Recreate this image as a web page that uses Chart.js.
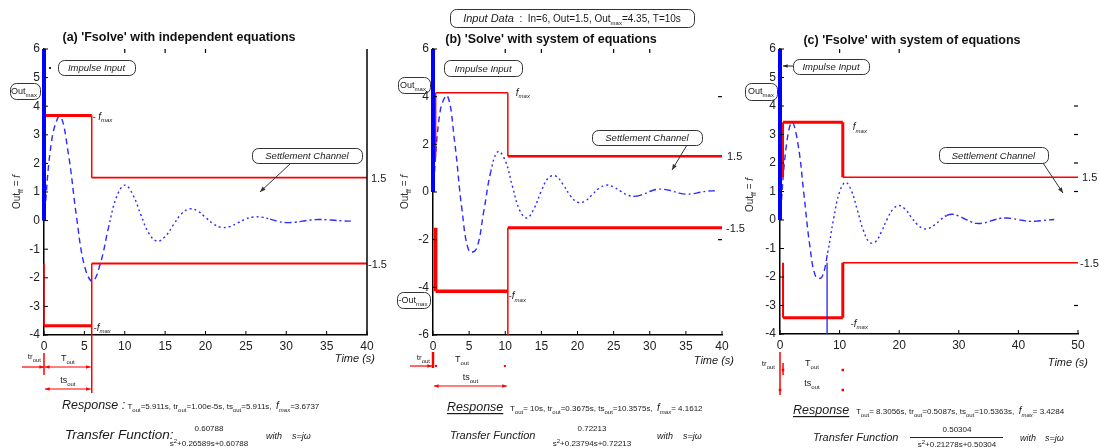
<!DOCTYPE html>
<html><head><meta charset="utf-8">
<script src="https://cdn.jsdelivr.net/npm/chart.js@4.4.1/dist/chart.umd.min.js"></script>
<style>
html,body{margin:0;padding:0;background:#fff;}
#wrap{position:relative;width:1099px;height:448px;overflow:hidden;background:#fff}
canvas{position:absolute;left:0;top:0;width:1099px;height:448px}
</style></head><body><div id="wrap">
<canvas id="ca" width="1099" height="448"></canvas>
<canvas id="cb" width="1099" height="448"></canvas>
<canvas id="cc" width="1099" height="448"></canvas>
</div>
<script>
// ---------- data ----------
const timeA = [0,1,2,3,4,5,6,7,8,9,10,11,12,13,14,15,16,17,18,19,20,21,22,23,24,25,26,27,28,29,30,31,32,33,34,35,36,37,38];
const outA  = [0,2.89,3.64,2.37,0.19,-1.57,-2.12,-1.48,-0.23,0.84,1.24,0.91,0.20,-0.45,-0.72,-0.56,-0.16,0.23,0.41,0.34,0.11,-0.12,-0.24,-0.21,-0.08,0.06,0.13,0.12,0.05,-0.03,-0.07,-0.06,-0.02,0.02,0.04,0.03,0.01,-0.01,-0.02];
const timeB = [0,1,2,3,4,5,6,7,8,9,10,11,12,13,14,15,16,17,18,19,20,21,22,23,24,25,26,27,28,29,30,31,32,33,34,35,36,37,38,39];
const outB  = [0,3.41,4.03,2.09,-0.71,-2.49,-2.39,-0.86,0.86,1.70,1.32,0.23,-0.77,-1.09,-0.69,0.05,0.60,0.67,0.32,-0.15,-0.43,-0.39,-0.12,0.16,0.29,0.21,0.03,-0.14,-0.18,-0.11,0.02,0.11,0.11,0.05,-0.04,-0.09,-0.07,-0.01,0.04,0.05];
const timeC = [0,1,2,3,4,5,6,7,8,9,10,11,12,13,14,15,16,17,18,19,20,21,22,23,24,25,26,27,28,29,30,31,32,33,34,35,36,37,38,39,40,41,42,43,44,45,46];
const outC  = [0,2.50,3.43,2.69,0.93,-0.90,-1.99,-2.01,-1.15,0.05,0.99,1.32,1.02,0.33,-0.37,-0.78,-0.77,-0.42,0.04,0.39,0.51,0.38,0.11,-0.15,-0.30,-0.29,-0.16,0.02,0.16,0.20,0.14,0.04,-0.06,-0.12,-0.11,-0.06,0.01,0.06,0.07,0.05,0.01,-0.02,-0.05,-0.04,-0.02,0.00,0.02];

const impulseIn = 6;          // impulse input height
const bandLevel = 1.5;        // settlement channel half width
const fmaxA = 3.6737, fmaxB = 4.1612, fmaxC = 3.4284;
const tsA = 5.911,  tsB = 10.3575, tsC = 10.5363;
const trA = 0,      trB = 0.3675,  trC = 0.5087;
const markerC = 7.9;          // blue marker line in panel (c)

const xTicksA = [0,5,10,15,20,25,30,35,40];
const xTicksB = [0,5,10,15,20,25,30,35,40];
const xTicksC = [0,10,20,30,40,50];
const yTicksA = [6,5,4,3,2,1,0,-1,-2,-3,-4];
const yTicksB = [6,4,2,0,-2,-4,-6];
const yTicksC = [6,5,4,3,2,1,0,-1,-2,-3,-4];
const topTicksA = [10,15,20];
const topTicksB = [10,15,25,30];
const topTicksC = [10,20];
const rightTicksB = [4,-2];
const rightTicksC = [4,3,2,1,-3];

// ---------- drawing helpers ----------
const FAM = '"Liberation Sans", Arial, Helvetica, sans-serif';
const F = (sz, st) => (st ? st + ' ' : '') + sz + 'px ' + FAM;
const sub = (t, sz, st) => [t, F(sz || 6, st), 2.5];

function rich(ctx, parts, x, y, align, color) {
  ctx.save();
  ctx.textBaseline = 'alphabetic'; ctx.textAlign = 'left';
  ctx.fillStyle = color || '#1a1a1a';
  let w = 0;
  const ws = parts.map(p => { ctx.font = p[1]; const m = ctx.measureText(p[0]).width; w += m; return m; });
  let cx = align === 'center' ? x - w / 2 : (align === 'right' ? x - w : x);
  parts.forEach((p, i) => {
    ctx.font = p[1];
    ctx.fillText(p[0], cx, y + (p[2] || 0));
    if (p[3]) ctx.fillRect(cx, y + 2, ws[i], 1.2);
    cx += ws[i];
  });
  ctx.restore();
  return w;
}
function rbox(ctx, x, y, w, h) {
  const r = Math.min(6, h / 2);
  ctx.save(); ctx.strokeStyle = '#333'; ctx.lineWidth = 1;
  x += 0.5; y += 0.5;
  ctx.beginPath();
  ctx.moveTo(x + r, y); ctx.lineTo(x + w - r, y); ctx.arcTo(x + w, y, x + w, y + r, r);
  ctx.lineTo(x + w, y + h - r); ctx.arcTo(x + w, y + h, x + w - r, y + h, r);
  ctx.lineTo(x + r, y + h); ctx.arcTo(x, y + h, x, y + h - r, r);
  ctx.lineTo(x, y + r); ctx.arcTo(x, y, x + r, y, r);
  ctx.closePath(); ctx.stroke(); ctx.restore();
}
function line(ctx, pts, color, lw) {
  ctx.save(); ctx.strokeStyle = color; ctx.lineWidth = lw; ctx.beginPath();
  pts.forEach((p, i) => i ? ctx.lineTo(p[0], p[1]) : ctx.moveTo(p[0], p[1]));
  ctx.stroke(); ctx.restore();
}
function head(ctx, xf, yf, xt, yt, color, s) {
  const a = Math.atan2(yt - yf, xt - xf);
  ctx.save(); ctx.fillStyle = color; ctx.beginPath();
  ctx.moveTo(xt, yt);
  ctx.lineTo(xt - s * Math.cos(a - 0.38), yt - s * Math.sin(a - 0.38));
  ctx.lineTo(xt - s * Math.cos(a + 0.38), yt - s * Math.sin(a + 0.38));
  ctx.closePath(); ctx.fill(); ctx.restore();
}
function arrow(ctx, x1, y1, x2, y2, color, lw, s, both) {
  line(ctx, [[x1, y1], [x2, y2]], color, lw);
  head(ctx, x1, y1, x2, y2, color, s);
  if (both) head(ctx, x2, y2, x1, y1, color, s);
}
function dot(ctx, x, y, color, s) { ctx.save(); ctx.fillStyle = color; ctx.fillRect(x - s / 2, y - s / 2, s, s); ctx.restore(); }
function vtext(ctx, parts, x, y) {
  ctx.save(); ctx.translate(x, y); ctx.rotate(-Math.PI / 2); rich(ctx, parts, 0, 0, 'center', '#333'); ctx.restore();
}
const fm = (pre) => [[pre, F(9)], ['f', F(10, 'italic')], sub('max', 6, 'italic')];
const outMax = (pre) => [[pre + 'Out', F(9)], sub('max', 6)];
const RED = '#ff0000';

function inwardTicks(ctx, c, P) {
  const xs = c.scales.x, ys = c.scales.y, ca = c.chartArea;
  P.yTicks.forEach(v => { const py = ys.getPixelForValue(v); line(ctx, [[ca.left, py], [ca.left + 4, py]], '#000', 1); });
  P.xTicks.forEach(v => { const px = xs.getPixelForValue(v); line(ctx, [[px, ca.bottom], [px, ca.bottom - 4]], '#000', 1); });
  (P.topTicks || []).forEach(v => { const px = xs.getPixelForValue(v); line(ctx, [[px, ca.top], [px, ca.top + 4]], '#000', 1.2); });
  (P.rightTicks || []).forEach(v => { const py = ys.getPixelForValue(v); line(ctx, [[ca.right - 4, py], [ca.right, py]], '#000', 1.2); });
}

// ---------- panel annotations ----------
function annA(ctx, c, P) {
  const xs = c.scales.x, ys = c.scales.y, ca = c.chartArea;
  const x0 = xs.getPixelForValue(0), xt = xs.getPixelForValue(P.ts);
  rich(ctx, [["(a) 'Fsolve' with independent equations", F(12.5, 'bold')]], 179, 41, 'center', '#111');
  line(ctx, [[ca.right, ca.top], [ca.right, ca.bottom]], '#000', 1.5);
  rbox(ctx, 58, 60, 77, 15); rich(ctx, [['Impulse Input', F(9.5, 'italic')]], 96.5, 71, 'center');
  dot(ctx, 50, 68, '#222', 2);
  rbox(ctx, 10, 83, 30, 16); rich(ctx, outMax(''), 24, 94, 'center');
  rich(ctx, fm('- '), xt + 1, ys.getPixelForValue(P.fmax) + 4);
  rbox(ctx, 252, 148, 110, 15); rich(ctx, [['Settlement Channel', F(9.5, 'italic')]], 307, 159, 'center');
  arrow(ctx, 290, 164, 260, 192, '#333', 1, 6);
  rich(ctx, fm('-'), xt + 2, ys.getPixelForValue(-P.fmax) + 5);
  rich(ctx, [['1.5', F(11)]], ca.right + 4, ys.getPixelForValue(P.band) + 4);
  rich(ctx, [['-1.5', F(11)]], ca.right + 1, ys.getPixelForValue(-P.band) + 4);
  rich(ctx, [['Time (s)', F(11, 'italic')]], ca.right + 8, 362, 'right');
  vtext(ctx, [['Out', F(10)], sub('ff', 7), [' = ', F(10)], ['f', F(10, 'italic')]], 20, 192);
  // time marks under axis
  line(ctx, [[x0, 353], [x0, 375]], RED, 1.5);
  line(ctx, [[xt, ca.bottom], [xt, 393]], RED, 1.5);
  arrow(ctx, 22, 367, x0, 367, RED, 1.2, 5);
  arrow(ctx, x0 + 1, 367, xt - 1, 367, RED, 1.2, 5, true);
  arrow(ctx, x0 + 1, 389, xt - 1, 389, RED, 1.2, 5, true);
  rich(ctx, [['tr', F(8)], sub('out', 6)], x0 - 3, 359, 'right');
  rich(ctx, [['T', F(9)], sub('out', 6)], (x0 + xt) / 2, 361, 'center');
  rich(ctx, [['ts', F(9)], sub('out', 6)], (x0 + xt) / 2, 383, 'center');
  // response & transfer function
  rich(ctx, [['Response :', F(12.5, 'italic')], [' T', F(8)], sub('out'), ['=5.911s, tr', F(8)], sub('out'), ['=1.00e-5s, ts', F(8)], sub('out'),
             ['=5.911s,  ', F(8)], ['f', F(10, 'italic')], sub('max', 6, 'italic'), ['=3.6737', F(8)]], 62, 409, 'left');
  rich(ctx, [['Transfer Function:', F(13.5, 'italic')]], 65, 439, 'left');
  rich(ctx, [['0.60788', F(8)]], 209, 431, 'center');
  rich(ctx, [['s', F(8)], ['2', F(6), -3], ['+0.26589s+0.60788', F(8)]], 209, 446, 'center');
  rich(ctx, [['with', F(9, 'italic')]], 266, 439, 'left');
  rich(ctx, [['s=jω', F(9, 'italic')]], 292, 439, 'left');
}

function annB(ctx, c, P) {
  const xs = c.scales.x, ys = c.scales.y, ca = c.chartArea;
  const x0 = xs.getPixelForValue(0), xt = xs.getPixelForValue(P.ts);
  rbox(ctx, 450, 9, 244, 18);
  rich(ctx, [['Input Data', F(11, 'italic')], ['  :  In=6, Out=1.5, Out', F(10)], sub('max', 6), ['=4.35, T=10s', F(10)]], 572, 22, 'center');
  rich(ctx, [["(b) 'Solve' with system of equations", F(12.5, 'bold')]], 551, 43, 'center', '#111');
  rbox(ctx, 444, 60, 78, 16); rich(ctx, [['Impulse Input', F(9.5, 'italic')]], 483, 72, 'center');
  rbox(ctx, 398, 77, 32, 16); rich(ctx, outMax(''), 413, 88, 'center');
  rich(ctx, fm(''), xt + 8, ys.getPixelForValue(P.fmax) + 3);
  rbox(ctx, 592, 130, 110, 15); rich(ctx, [['Settlement Channel', F(9.5, 'italic')]], 647, 141, 'center');
  arrow(ctx, 687, 145, 672, 170, '#333', 1, 6);
  rbox(ctx, 397, 292, 33, 16); rich(ctx, outMax('-'), 413, 303, 'center');
  rich(ctx, fm('-'), xt + 1, ys.getPixelForValue(-P.fmax) + 8);
  rich(ctx, [['1.5', F(11)]], ca.right + 5, ys.getPixelForValue(P.band) + 4);
  rich(ctx, [['-1.5', F(11)]], ca.right + 4, ys.getPixelForValue(-P.band) + 4);
  rich(ctx, [['Time (s)', F(11, 'italic')]], ca.right + 12, 364, 'right');
  vtext(ctx, [['Out', F(10)], sub('ff', 7), [' = ', F(10)], ['f', F(10, 'italic')]], 408, 192);
  // time marks under axis
  line(ctx, [[x0, 352], [x0, 368]], RED, 2.5);
  arrow(ctx, 410, 366, x0 - 1, 366, RED, 1.2, 5);
  dot(ctx, x0 + 3, 366, RED, 2); dot(ctx, xt - 3, 366, RED, 2);
  arrow(ctx, x0 + 1, 386, xt - 1, 386, RED, 1.2, 5, true);
  rich(ctx, [['tr', F(8)], sub('out', 6)], x0 - 3, 360, 'right');
  rich(ctx, [['T', F(9)], sub('out', 6)], 462, 362, 'center');
  rich(ctx, [['ts', F(9)], sub('out', 6)], (x0 + xt) / 2, 380, 'center');
  rich(ctx, [['Response', F(12.5, 'italic'), 0, true], ['   T', F(8)], sub('out'), ['= 10s, tr', F(8)], sub('out'), ['=0.3675s, ts', F(8)], sub('out'),
             ['=10.3575s,  ', F(8)], ['f', F(10, 'italic')], sub('max', 6, 'italic'), ['= 4.1612', F(8)]], 447, 411, 'left');
  rich(ctx, [['Transfer Function', F(11, 'italic')]], 450, 439, 'left');
  rich(ctx, [['0.72213', F(8)]], 592, 431, 'center');
  rich(ctx, [['s', F(8)], ['2', F(6), -3], ['+0.23794s+0.72213', F(8)]], 592, 446, 'center');
  rich(ctx, [['with', F(9, 'italic')]], 657, 439, 'left');
  rich(ctx, [['s=jω', F(9, 'italic')]], 683, 439, 'left');
}

function annC(ctx, c, P) {
  const xs = c.scales.x, ys = c.scales.y, ca = c.chartArea;
  const x0 = xs.getPixelForValue(0), xr = xs.getPixelForValue(P.tr), xt = xs.getPixelForValue(P.ts);
  rich(ctx, [["(c) 'Fsolve' with system of equations", F(12.5, 'bold')]], 912, 44, 'center', '#111');
  rbox(ctx, 793, 59, 76, 15); rich(ctx, [['Impulse Input', F(9.5, 'italic')]], 831, 70, 'center');
  arrow(ctx, 793, 66, x0 + 3, 66, '#222', 1, 5);
  rbox(ctx, 745, 83, 32, 17); rich(ctx, outMax(''), 761, 94, 'center');
  rich(ctx, fm(''), xt + 10, ys.getPixelForValue(P.fmax) + 8);
  rbox(ctx, 939, 147, 109, 16); rich(ctx, [['Settlement Channel', F(9.5, 'italic')]], 993.5, 159, 'center');
  arrow(ctx, 1043, 163, 1063, 193, '#333', 1, 6);
  rich(ctx, fm('-'), xt + 8, ys.getPixelForValue(-P.fmax) + 9);
  rich(ctx, [['1.5', F(11)]], ca.right + 4, ys.getPixelForValue(P.band) + 4);
  rich(ctx, [['-1.5', F(11)]], ca.right + 2, ys.getPixelForValue(-P.band) + 4);
  rich(ctx, [['Time (s)', F(11, 'italic')]], ca.right + 10, 366, 'right');
  vtext(ctx, [['Out', F(10)], sub('ff', 7), [' = ', F(10)], ['f', F(10, 'italic')]], 753, 195);
  // time marks under axis
  line(ctx, [[x0, 352], [x0, 395]], RED, 1.5);
  line(ctx, [[xr, 363], [xr, 375]], RED, 1.5);
  dot(ctx, xr, 370, RED, 2.5); dot(ctx, xt, 370, RED, 2.5);
  dot(ctx, x0, 390, RED, 2.5); dot(ctx, xt, 390, RED, 2.5);
  rich(ctx, [['tr', F(8)], sub('out', 6)], x0 - 5, 366, 'right');
  rich(ctx, [['T', F(9)], sub('out', 6)], 812, 366, 'center');
  rich(ctx, [['ts', F(9)], sub('out', 6)], 812, 386, 'center');
  rich(ctx, [['Response', F(12.5, 'italic'), 0, true], ['   T', F(8)], sub('out'), ['= 8.3056s, tr', F(8)], sub('out'), ['=0.5087s, ts', F(8)], sub('out'),
             ['=10.5363s,  ', F(8)], ['f', F(10, 'italic')], sub('max', 6, 'italic'), ['= 3.4284', F(8)]], 793, 414, 'left');
  rich(ctx, [['Transfer Function', F(11, 'italic')]], 813, 441, 'left');
  rich(ctx, [['0.50304', F(8)]], 957, 432, 'center');
  line(ctx, [[910, 437.5], [1003, 437.5]], '#222', 1);
  rich(ctx, [['s', F(8)], ['2', F(6), -3], ['+0.21278s+0.50304', F(8)]], 957, 447, 'center');
  rich(ctx, [['with', F(9, 'italic')]], 1020, 441, 'left');
  rich(ctx, [['s=jω', F(9, 'italic')]], 1045, 441, 'left');
}

// ---------- chart builder ----------
function panel(P) {
  const YW = 30, XH = 24, W = 1099, H = 448;
  const seg = (pts, w, color) => ({ data: pts, borderColor: color, borderWidth: w, pointRadius: 0, tension: 0, fill: false, clip: false });
  const b = P.band, fx = P.fmax;
  const datasets = [];
  datasets.push(seg([{ x: 0, y: 0 }, { x: 0, y: P.impulse }], 4, '#0000ff'));
  if (P.marker !== undefined) datasets.push(seg([{ x: P.marker, y: -b }, { x: P.marker, y: P.yMin }], 1.3, '#2222ff'));
  datasets.push(seg([{ x: P.tr, y: b }, { x: P.tr, y: fx }], P.wu[0], RED));
  datasets.push(seg([{ x: P.tr, y: fx }, { x: P.ts, y: fx }], P.wu[1], RED));
  datasets.push(seg([{ x: P.ts, y: fx }, { x: P.ts, y: b }], P.wu[2], RED));
  datasets.push(seg([{ x: P.ts, y: b }, { x: P.xMax, y: b }], P.wu[3], RED));
  datasets.push(seg([{ x: P.tr, y: -b }, { x: P.tr, y: -fx }], P.wl[0], RED));
  datasets.push(seg([{ x: P.tr, y: -fx }, { x: P.ts, y: -fx }], P.wl[1], RED));
  datasets.push(seg([{ x: P.ts, y: P.lowTsFrom }, { x: P.ts, y: -b }], P.wl[2], RED));
  datasets.push(seg([{ x: P.ts, y: -b }, { x: P.xMax, y: -b }], P.wl[3], RED));
  datasets.push({ data: P.t.map((t, i) => ({ x: t, y: P.y[i] })), borderColor: '#2b2bff', borderWidth: 1.4,
                  tension: 0.4, pointRadius: 0, fill: false,
                  segment: { borderDash: s => s.p0.parsed.x < 8 ? [6, 4] : (s.p0.parsed.x < 28 ? [2, 3] : [7, 3, 2, 3]) } });
  const axis = (ticks, min, max) => ({
    type: 'linear', min, max,
    afterBuildTicks: s => { s.ticks = ticks.map(v => ({ value: v })); },
    grid: { display: false, drawTicks: false },
    border: { display: true, color: '#000', width: 1.5 },
    ticks: { padding: 4, color: '#222', font: { family: FAM, size: 12 }, maxRotation: 0, autoSkip: false, callback: v => String(v) }
  });
  const xa = axis(P.xTicks, 0, P.xMax);
  xa.afterFit = s => { s.height = XH; s.paddingLeft = 0; s.paddingRight = 0; };
  const ya = axis(P.yTicks, P.yMin, P.yMax);
  ya.afterFit = s => { s.width = YW; s.paddingTop = 0; s.paddingBottom = 0; };
  new Chart(document.getElementById(P.id), {
    type: 'line',
    data: { datasets },
    options: {
      responsive: false, animation: false, devicePixelRatio: 1,
      layout: { padding: { left: P.L - YW, top: P.T, right: W - P.R, bottom: H - P.B - XH } },
      plugins: { legend: { display: false }, tooltip: { enabled: false }, title: { display: false } },
      scales: { x: xa, y: ya }
    },
    plugins: [{ id: 'ann', afterDraw(c) { const ctx = c.ctx; inwardTicks(ctx, c, P); P.ann(ctx, c, P); } }]
  });
}

panel({ id: 'ca', L: 44, R: 367, T: 49, B: 335, xMax: 40, yMin: -4, yMax: 6, xTicks: xTicksA, yTicks: yTicksA, topTicks: topTicksA,
        t: timeA, y: outA, impulse: impulseIn, band: bandLevel, fmax: fmaxA, ts: tsA, tr: trA,
        wu: [1.5, 3, 1.5, 1.8], wl: [1.5, 3, 1.5, 1.8], lowTsFrom: -4, ann: annA });
panel({ id: 'cb', L: 433, R: 722, T: 49, B: 335, xMax: 40, yMin: -6, yMax: 6, xTicks: xTicksB, yTicks: yTicksB, topTicks: topTicksB, rightTicks: rightTicksB,
        t: timeB, y: outB, impulse: impulseIn, band: bandLevel, fmax: fmaxB, ts: tsB, tr: trB,
        wu: [1.5, 1.5, 1.5, 2.5], wl: [3.5, 3.5, 1.5, 3], lowTsFrom: -6, ann: annB });
panel({ id: 'cc', L: 780, R: 1078, T: 49, B: 334, xMax: 50, yMin: -4, yMax: 6, xTicks: xTicksC, yTicks: yTicksC, topTicks: topTicksC, rightTicks: rightTicksC,
        t: timeC, y: outC, impulse: impulseIn, band: bandLevel, fmax: fmaxC, ts: tsC, tr: trC, marker: markerC,
        wu: [2, 3, 3, 1.5], wl: [2, 3, 3, 1.5], lowTsFrom: -fmaxC, ann: annC });
</script>
</body></html>
